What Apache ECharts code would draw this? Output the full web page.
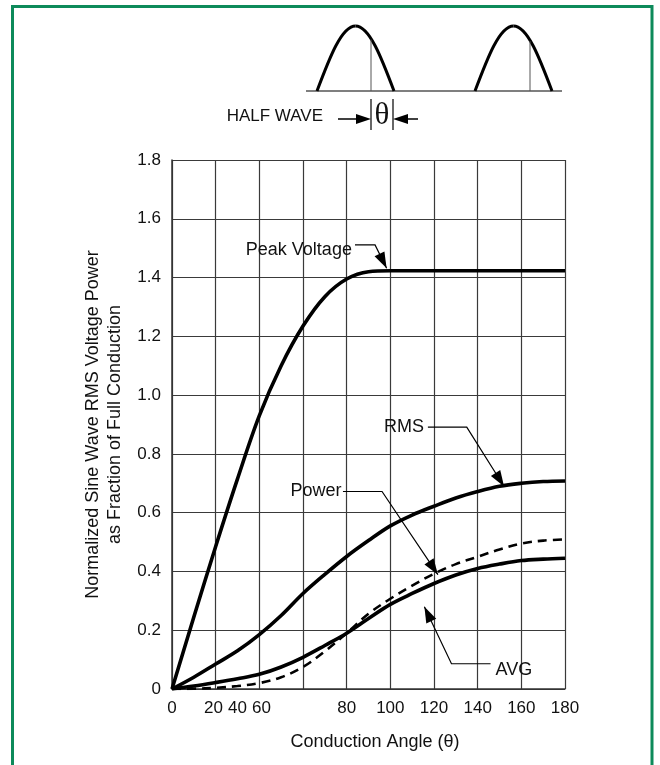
<!DOCTYPE html>
<html><head><meta charset="utf-8">
<script src="https://cdn.jsdelivr.net/npm/echarts@6/dist/echarts.min.js"></script>
<style>html,body{margin:0;padding:0;background:#fff}#c{width:660px;height:765px}</style>
</head><body><div id="c"></div>
<script>
// ---- data ----
const angles      = [0, 10, 20, 30, 40, 50, 60, 70, 80, 90, 100, 110, 120, 130, 140, 150, 160, 170, 180];
const peakVoltage = [0, 0.245, 0.485, 0.715, 0.93, 1.10, 1.235, 1.335, 1.395, 1.42, 1.423, 1.423, 1.423, 1.423, 1.423, 1.423, 1.423, 1.423, 1.423];
const rmsVoltage  = [0, 0.04, 0.085, 0.13, 0.185, 0.25, 0.325, 0.39, 0.451, 0.505, 0.555, 0.592, 0.622, 0.65, 0.672, 0.69, 0.70, 0.706, 0.708];
const power       = [0, 0.001, 0.004, 0.01, 0.02, 0.04, 0.075, 0.128, 0.19, 0.256, 0.307, 0.352, 0.392, 0.425, 0.45, 0.475, 0.495, 0.505, 0.509];
const avgVoltage  = [0, 0.01, 0.022, 0.035, 0.05, 0.075, 0.108, 0.148, 0.19, 0.24, 0.288, 0.325, 0.359, 0.388, 0.41, 0.425, 0.437, 0.442, 0.445];
const xTickLabels = ['0', '20', '40', '60', '80', '100', '120', '140', '160', '180'];
const xTickLabelAt = [0, 19, 30, 41, 80, 100, 120, 140, 160, 180];
const annotations = [
  { text: 'Peak Voltage', label: [82.4, 1.494], align: 'right', path: [[83.8, 1.511], [93.0, 1.511], [98.3, 1.432]] },
  { text: 'RMS', label: [115.4, 0.893], align: 'right', path: [[117.2, 0.891], [135.0, 0.891], [152.1, 0.689]] },
  { text: 'Power', label: [77.6, 0.674], align: 'right', path: [[78.3, 0.672], [96.2, 0.672], [121.8, 0.389]] },
  { text: 'AVG', label: [148.2, 0.066], align: 'left', path: [[145.9, 0.086], [128.0, 0.086], [115.6, 0.280]] }
];

const FONT = '"Liberation Sans", Arial, Helvetica, sans-serif';
const pairs = arr => angles.map((a, i) => [a, arr[i]]);
const chart = echarts.init(document.getElementById('c'), null, { renderer: 'canvas' });

function lineSeries(name, arr, dashed) {
  return {
    name, type: 'line', data: pairs(arr), showSymbol: false, smooth: 0.35,
    lineStyle: { color: '#000', width: dashed ? 2.6 : 3.6, type: dashed ? [9, 6] : 'solid' },
    z: 5, animation: false
  };
}

chart.setOption({
  animation: false,
  backgroundColor: '#fff',
  grid: { left: 172, right: 95, top: 160, bottom: 76 },
  xAxis: {
    type: 'value', min: 0, max: 180, interval: 20,
    name: 'Conduction Angle (θ)', nameLocation: 'middle', nameGap: 44,
    nameTextStyle: { fontFamily: FONT, fontSize: 18, color: '#111', padding: [0, 0, 0, 13] },
    axisLine: { show: true, lineStyle: { color: '#333', width: 1.5 } },
    axisTick: { show: false },
    axisLabel: {
      customValues: xTickLabelAt, margin: 11,
      fontFamily: FONT, fontSize: 17, color: '#111',
      formatter: v => { const i = xTickLabelAt.indexOf(Math.round(v)); return i >= 0 ? xTickLabels[i] : ''; }
    },
    splitLine: { show: true, lineStyle: { color: '#3a3a3a', width: 1.2 } }
  },
  yAxis: {
    type: 'value', min: 0, max: 1.8, interval: 0.2,
    name: 'Normalized Sine Wave RMS Voltage Power\nas Fraction of Full Conduction',
    nameLocation: 'middle', nameGap: 43, nameRotate: 90,
    nameTextStyle: { fontFamily: FONT, fontSize: 18, color: '#111', lineHeight: 22 },
    axisLine: { show: true, lineStyle: { color: '#333', width: 1.5 } },
    axisTick: { show: false },
    axisLabel: { margin: 11, fontFamily: FONT, fontSize: 17, color: '#111',
      formatter: v => (v === 0 ? '0' : v.toFixed(1)) },
    splitLine: { show: true, lineStyle: { color: '#3a3a3a', width: 1.2 } }
  },
  series: [
    lineSeries('Peak Voltage', peakVoltage, false),
    lineSeries('RMS', rmsVoltage, false),
    lineSeries('Power', power, true),
    lineSeries('AVG', avgVoltage, false)
  ]
});

// ---- decorations ----
function arrowHead(tip, from, len, hw) {
  const dx = tip[0] - from[0], dy = tip[1] - from[1];
  const L = Math.hypot(dx, dy) || 1;
  const ux = dx / L, uy = dy / L, nx = -uy, ny = ux;
  const bx = tip[0] - ux * len, by = tip[1] - uy * len;
  return [[tip[0], tip[1]], [bx + nx * hw, by + ny * hw], [bx - nx * hw, by - ny * hw]];
}
const toPx = p => chart.convertToPixel({ gridIndex: 0 }, p);
const g = [];

// frame
g.push({ type: 'rect', shape: { x: 12.5, y: 6.5, width: 639.5, height: 820 },
  style: { fill: 'none', stroke: '#0d8a5a', lineWidth: 3 }, z: 100 });

// annotations
annotations.forEach(a => {
  const lp = toPx(a.label);
  g.push({ type: 'text', x: lp[0], y: lp[1], z: 20,
    style: { text: a.text, fontFamily: FONT, fontSize: 18, fill: '#111', align: a.align, verticalAlign: 'middle' } });
  const pts = a.path.map(toPx);
  g.push({ type: 'polyline', shape: { points: pts }, style: { stroke: '#000', lineWidth: 1.2, fill: 'none' }, z: 20 });
  const n = pts.length;
  g.push({ type: 'polygon', shape: { points: arrowHead(pts[n - 1], pts[n - 2], 16, 5.5) }, style: { fill: '#000' }, z: 21 });
});

// top waveform illustration (half-sine humps as cubic beziers)
const K1 = 0.5122866, K2 = 1.0023137;
function archCurves(x0, x1, yb, h) {
  const w2 = (x1 - x0) / 2, s = w2 / (Math.PI / 2), xm = x0 + w2, yt = yb - h;
  const st = { stroke: '#000', lineWidth: 3, fill: 'none' };
  return [
    { type: 'bezierCurve', shape: { x1: x0, y1: yb, cpx1: x0 + K1 * s, cpy1: yb - K1 * h, cpx2: x0 + K2 * s, cpy2: yt, x2: xm, y2: yt }, style: st },
    { type: 'bezierCurve', shape: { x1: xm, y1: yt, cpx1: x1 - K2 * s, cpy1: yt, cpx2: x1 - K1 * s, cpy2: yb - K1 * h, x2: x1, y2: yb }, style: st }
  ];
}
const yb = 91;
g.push({ type: 'line', shape: { x1: 306, y1: yb, x2: 562, y2: yb }, style: { stroke: '#555', lineWidth: 1.5 } });
[[317, 394, 371], [475, 552, 530]].forEach(([x0, x1, xv]) => {
  archCurves(x0, x1, yb, 65).forEach(c => g.push(c));
  const ang = (xv - x0) / (x1 - x0) * Math.PI;
  g.push({ type: 'line', shape: { x1: xv, y1: yb - 65 * Math.sin(ang) + 1, x2: xv, y2: yb }, style: { stroke: '#555', lineWidth: 1 } });
});
g.push({ type: 'text', x: 323, y: 116, style: { text: 'HALF WAVE', fontFamily: FONT, fontSize: 17, fill: '#111', align: 'right', verticalAlign: 'middle' } });
g.push({ type: 'line', shape: { x1: 371, y1: 99, x2: 371, y2: 130 }, style: { stroke: '#000', lineWidth: 1.2 } });
g.push({ type: 'line', shape: { x1: 393, y1: 99, x2: 393, y2: 130 }, style: { stroke: '#000', lineWidth: 1.2 } });
g.push({ type: 'text', x: 382, y: 116, style: { text: 'θ', fontFamily: '"Liberation Serif", "DejaVu Serif", serif', fontSize: 31, fill: '#111', align: 'center', verticalAlign: 'middle' } });
g.push({ type: 'line', shape: { x1: 338, y1: 119, x2: 358, y2: 119 }, style: { stroke: '#000', lineWidth: 1.5 } });
g.push({ type: 'polygon', shape: { points: arrowHead([371, 119], [338, 119], 15, 5) }, style: { fill: '#000' } });
g.push({ type: 'line', shape: { x1: 418, y1: 119, x2: 405, y2: 119 }, style: { stroke: '#000', lineWidth: 1.5 } });
g.push({ type: 'polygon', shape: { points: arrowHead([393, 119], [418, 119], 15, 5) }, style: { fill: '#000' } });

chart.setOption({ graphic: { elements: g } });
</script>
</body></html>
